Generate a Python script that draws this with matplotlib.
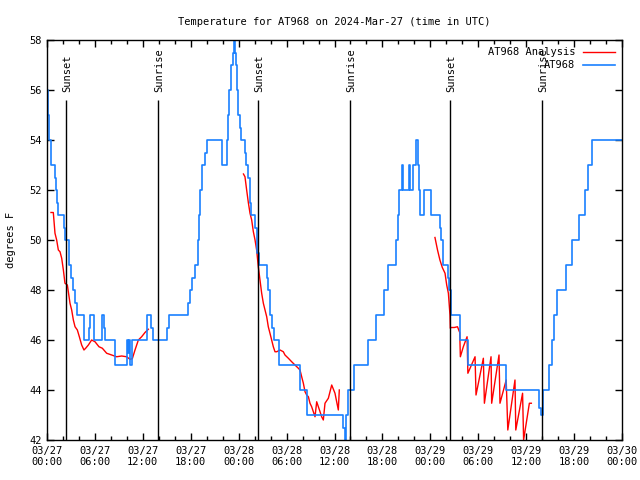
# -*- coding: utf-8 -*-
"""
Temperature for AT968, observations vs analysis, with sunrise / sunset marks.
Time axis is in hours since 2024-03-27 00:00 UTC.
"""

#%% --- Import required packages ---

import numpy as np
import matplotlib.pyplot as plt

#%% --- Data ---

# Observed temperature (step changes): hour, degrees F
obs_hours = [0.0, 0.12, 0.25, 0.45, 0.95, 1.1, 1.2, 1.33, 2.1, 2.25, 2.8, 3.0, 3.2,
             3.45, 3.71, 4.63, 5.2, 5.35, 5.85, 6.88, 7.1, 7.2, 8.51, 10.05, 10.15,
             10.3, 10.45, 10.6, 12.48, 13.05, 13.3, 15.07, 15.3, 17.6, 17.85, 18.2,
             18.5, 18.95, 19.05, 19.2, 19.45, 19.8, 20.07, 21.95, 22.5, 22.7, 22.85,
             23.0, 23.3, 23.45, 23.6, 23.7, 23.8, 23.95, 24.15, 24.3, 24.75, 24.95,
             25.2, 25.4, 25.6, 26.1, 26.3, 26.55, 27.5, 27.65, 27.9, 28.2, 28.46,
             29.0, 31.65, 32.5, 37.1, 37.3, 37.5, 37.7, 38.4, 40.2, 41.2, 42.2,
             42.7, 43.7, 43.9, 44.1, 44.4, 44.6, 45.3, 45.5, 45.8, 46.2, 46.4,
             46.55, 46.7, 47.2, 48.1, 49.2, 49.35, 49.6, 50.2, 50.35, 50.6, 51.7,
             52.7, 57.5, 61.6, 61.85, 62.1, 62.9, 63.2, 63.5, 63.9, 65.0, 65.8,
             66.6, 67.4, 67.8, 68.3, 72.0]
obs_temps = [56, 55, 54, 53, 52.5, 52, 51.5, 51, 50.5, 50, 49, 48.5, 48,
             47.5, 47, 46, 46.5, 47, 46, 47, 46.5, 46, 45, 46, 45.5,
             46, 45, 46, 47, 46.5, 46, 46.5, 47, 47.5, 48, 48.5,
             49, 50, 51, 52, 53, 53.5, 54, 53, 54, 55, 56,
             57, 57.5, 58, 57.5, 57, 56, 55, 54.5, 54, 53.5, 53,
             52.5, 51.5, 51, 50.5, 49.5, 49, 48.5, 48, 47, 46.5, 46,
             45, 44, 43, 42.5, 42, 43, 44, 45, 46, 47, 48,
             49, 50, 51, 52, 53, 52, 53, 52, 53, 54, 53,
             52, 51, 52, 51, 50.5, 50, 49, 48.5, 48, 47, 46,
             45, 44, 43.3, 43, 44, 45, 46, 47, 48, 49, 50,
             51, 52, 53, 54, 54]

# Analysis temperature, three separate runs
analysis_hours_1 = [0.50, 0.79, 1.0, 1.21, 1.42, 1.63, 1.84, 2.05, 2.25, 2.55, 2.88,
                    3.09, 3.30, 3.51, 3.80, 4.05, 4.34, 4.63, 4.84, 5.18, 5.59, 6.01,
                    6.51, 6.93, 7.47, 8.10, 8.72, 9.35, 9.97, 10.39, 10.68, 11.02,
                    11.44, 11.85, 12.27, 12.69]
analysis_temps_1 = [51.1, 51.1, 50.27, 50.0, 49.6, 49.53, 49.27, 48.8, 48.27, 48.2, 47.47,
                    47.2, 46.8, 46.53, 46.4, 46.13, 45.8, 45.6, 45.67, 45.8, 46.0, 45.93,
                    45.73, 45.67, 45.47, 45.4, 45.33, 45.36, 45.33, 45.23, 45.25, 45.6,
                    46.0, 46.13, 46.3, 46.43]

analysis_hours_2 = [24.6, 24.79, 25.0, 25.21, 25.42, 25.63, 25.84, 26.05, 26.25, 26.46,
                    26.67, 26.88, 27.09, 27.30, 27.51, 27.71, 27.92, 28.13, 28.34, 28.55,
                    28.76, 29.18, 29.59, 29.80, 30.22, 30.64, 31.05, 31.47, 31.68, 31.89,
                    32.1, 32.31, 32.52, 32.73, 32.93, 33.14, 33.35, 33.56, 33.77, 33.98,
                    34.19, 34.39, 34.6, 34.81, 35.23, 35.65, 36.06, 36.48, 36.6]
analysis_temps_2 = [52.64, 52.53, 52.0, 51.5, 51.07, 50.8, 50.33, 50.0, 49.6, 48.93,
                    48.4, 47.87, 47.47, 47.2, 46.93, 46.53, 46.27, 46.0, 45.73, 45.53,
                    45.53, 45.6, 45.53, 45.4, 45.27, 45.13, 45.0, 44.87, 44.8, 44.53,
                    44.27, 43.93, 43.8, 43.73, 43.47, 43.33, 43.13, 42.93, 43.53, 43.33,
                    43.13, 42.93, 42.8, 43.47, 43.67, 44.2, 43.87, 43.2, 44.0]

analysis_hours_3 = [48.58, 48.9, 49.2, 49.5, 49.84, 50.05, 50.26, 50.46, 50.5, 50.6,
                    51.0, 51.4, 51.68, 51.76, 52.13, 52.6, 52.7, 53.6, 53.72, 54.64,
                    54.77, 55.6, 55.68, 56.6, 56.72, 57.5, 57.7, 58.6, 58.7, 59.55,
                    59.68, 60.4, 60.65]
analysis_temps_3 = [50.1, 49.6, 49.2, 48.9, 48.67, 48.2, 47.87, 47.0, 46.47, 46.5,
                    46.5, 46.53, 46.3, 45.33, 45.73, 46.13, 44.67, 45.33, 43.8, 45.27,
                    43.47, 45.33, 43.47, 45.4, 43.47, 44.4, 42.4, 44.4, 42.4, 43.87,
                    42.0, 43.47, 43.47]

# Sun events
sun_hours = [2.38, 13.94, 26.46, 37.98, 50.5, 61.94]
sun_labels = ["Sunset", "Sunrise", "Sunset", "Sunrise", "Sunset", "Sunrise"]

tick_hours = [0, 6, 12, 18, 24, 30, 36, 42, 48, 54, 60, 66, 72]
tick_labels = ["03/27\n00:00", "03/27\n06:00", "03/27\n12:00", "03/27\n18:00",
               "03/28\n00:00", "03/28\n06:00", "03/28\n12:00", "03/28\n18:00",
               "03/29\n00:00", "03/29\n06:00", "03/29\n12:00", "03/29\n18:00",
               "03/30\n00:00"]

#%% --- Prepare data ---

# join analysis runs with gaps so they plot as one line
analysis_hours = np.concatenate([analysis_hours_1, [np.nan],
                                 analysis_hours_2, [np.nan],
                                 analysis_hours_3])
analysis_temps = np.concatenate([analysis_temps_1, [np.nan],
                                 analysis_temps_2, [np.nan],
                                 analysis_temps_3])

#%% --- Visualize data ---

plt.rcParams["font.family"] = "DejaVu Sans Mono"
plt.rcParams["font.size"] = 7.5

fig = plt.figure(figsize = (6.4, 4.8), dpi = 100)
ax = fig.add_axes([47 / 640, 40 / 480, 575 / 640, 400 / 480])

ax.plot(analysis_hours, analysis_temps,
        color = "#ff0000",
        linewidth = 1,
        label = "AT968 Analysis")
ax.plot(obs_hours, obs_temps,
        color = "#1a80ff",
        linewidth = 1.2,
        drawstyle = "steps-post",
        label = "AT968")

for hour, label in zip(sun_hours, sun_labels):
    ax.vlines(hour, 42, 55.6, color = "black", linewidth = 1)
    ax.text(hour + 0.15, 55.9, label,
            rotation = 90,
            ha = "center",
            va = "bottom")

# --- Axis parameters ---
ax.set_xlim(0, 72)
ax.set_ylim(42, 58)

ax.set_xticks(tick_hours)
ax.set_xticklabels(tick_labels)
ax.set_xticks(np.arange(0, 73, 2), minor = True)
ax.set_yticks(np.arange(42, 59, 2))

ax.tick_params(which = "both", direction = "in",
               top = True, right = True, width = 1)
ax.tick_params(which = "major", length = 5, pad = 4)
ax.tick_params(which = "minor", length = 3)

for spine in ax.spines.values():
    spine.set_linewidth(1)

ax.set_ylabel("degrees F", labelpad = 9)
ax.set_title("Temperature for AT968 on 2024-Mar-27 (time in UTC)",
             fontsize = 7.5, pad = 11)

ax.legend(loc = "upper right",
          frameon = False,
          markerfirst = False,
          handlelength = 3.0,
          borderaxespad = 0.3,
          labelspacing = 0.3,
          handletextpad = 0.8)

fig.savefig("out.png", dpi = 100)
